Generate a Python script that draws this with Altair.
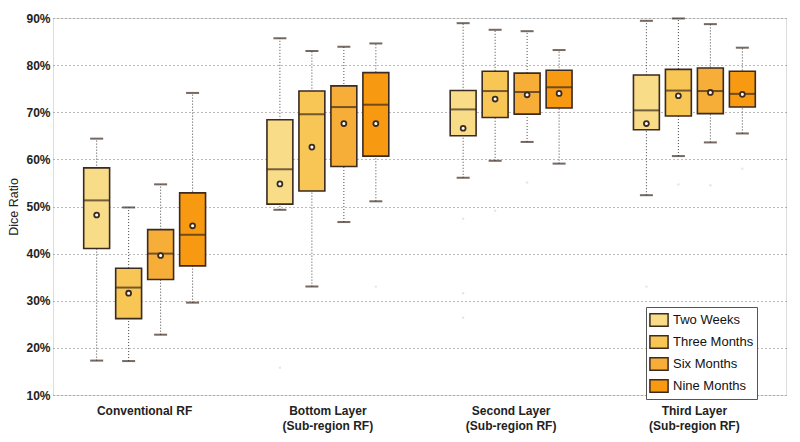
import altair as alt
import pandas as pd

groups = ["Conventional RF", "Bottom Layer|(Sub-region RF)", "Second Layer|(Sub-region RF)", "Third Layer|(Sub-region RF)"]
series = ["Two Weeks", "Three Months", "Six Months", "Nine Months"]
colors = ["#F9DC88", "#F8C655", "#F7AE38", "#F79A12"]

# per group, per series (Two Weeks, Three Months, Six Months, Nine Months), in percent
whisk_lo = [[17.3, 17.2, 22.8, 29.6], [49.3, 33.0, 46.7, 51.1], [56.1, 59.7, 63.7, 59.1], [52.4, 60.7, 63.6, 65.5]]
q1 = [[41.1, 26.2, 34.5, 37.4], [50.5, 53.3, 58.5, 60.7], [65.0, 68.9, 69.6, 70.9], [66.3, 69.2, 69.7, 71.1]]
median = [[51.3, 32.8, 40.0, 44.0], [57.9, 69.6, 71.1, 71.6], [70.6, 74.5, 74.3, 75.3], [70.4, 74.6, 74.5, 73.9]]
mean = [[48.2, 31.6, 39.6, 45.9], [54.8, 62.6, 67.6, 67.6], [66.6, 72.8, 73.7, 74.0], [67.6, 73.5, 74.2, 73.8]]
q3 = [[58.2, 36.9, 45.1, 52.9], [68.4, 74.5, 75.6, 78.4], [74.6, 78.7, 78.3, 78.9], [77.9, 79.1, 79.4, 78.7]]
whisk_hi = [[64.4, 49.8, 54.7, 74.1], [85.7, 83.0, 83.9, 84.6], [88.9, 87.5, 87.2, 83.2], [89.4, 89.9, 88.7, 83.7]]

out_group = [1, 1, 2, 2, 2, 2, 2, 3, 3, 3, 3]
out_series = [0, 3, 0, 0, 0, 1, 2, 0, 1, 2, 3]
out_value = [15.8, 33.0, 47.4, 31.6, 26.4, 49.1, 55.1, 33.0, 54.7, 54.5, 58.0]

rows = []
for gi, g in enumerate(groups):
    for si, s in enumerate(series):
        rows.append(dict(group=g, series=s,
                         lo=whisk_lo[gi][si] / 100, q1=q1[gi][si] / 100, med=median[gi][si] / 100,
                         mean=mean[gi][si] / 100, q3=q3[gi][si] / 100, hi=whisk_hi[gi][si] / 100))
df = pd.DataFrame(rows)
odf = pd.DataFrame(dict(group=[groups[i] for i in out_group],
                        series=[series[i] for i in out_series],
                        v=[v / 100 for v in out_value]))

FONT = "Liberation Sans"
DARK = "#3a2a20"

x = alt.X("group:N", sort=groups, scale=alt.Scale(paddingInner=0, paddingOuter=0),
          axis=alt.Axis(title=None, labelExpr="split(datum.label, '|')", labelFont=FONT,
                        labelFontSize=12, labelFontWeight="bold", labelColor="#222",
                        labelAngle=0, tickSize=0, labelPadding=10, domain=False, labelLineHeight=15))
xo = alt.XOffset("series:N", sort=series,
                 scale=alt.Scale(paddingInner=0.19, paddingOuter=0.96))
yscale = alt.Scale(domain=[0.1, 0.9], nice=False, zero=False)
yaxis = alt.Axis(title="Dice Ratio", format=".0%", values=[0.1, 0.2, 0.3, 0.4, 0.5, 0.6, 0.7, 0.8, 0.9],
                 grid=True, gridDash=[1, 3], gridColor="#777", gridWidth=1,
                 labelFont=FONT, labelFontSize=12, labelFontWeight="bold", labelColor="#222",
                 titleFont=FONT, titleFontSize=12.5, titleFontWeight="normal", titleColor="#222",
                 titlePadding=5, tickSize=0, domain=False, labelPadding=3)

base = alt.Chart(df)

whisk = base.mark_rule(strokeDash=[1, 2], color="#444", strokeWidth=1).encode(
    x=x, xOffset=xo, y=alt.Y("lo:Q", scale=yscale, axis=yaxis), y2="hi:Q")
cap_lo = base.mark_tick(orient="horizontal", size=13, thickness=2, color=DARK).encode(
    x=x, xOffset=xo, y=alt.Y("lo:Q", scale=yscale))
cap_hi = base.mark_tick(orient="horizontal", size=13, thickness=2, color=DARK).encode(
    x=x, xOffset=xo, y=alt.Y("hi:Q", scale=yscale))
box = base.mark_bar(stroke=DARK, strokeWidth=1.6).encode(
    x=x, xOffset=xo, y=alt.Y("q1:Q", scale=yscale), y2="q3:Q",
    color=alt.Color("series:N", sort=series, scale=alt.Scale(domain=series, range=colors),
                    legend=alt.Legend(title=None, orient="none", legendX=593, legendY=289,
                                      symbolType="M-1,-0.7H1V0.7H-1Z", symbolSize=330,
                                      symbolStrokeColor=DARK, symbolStrokeWidth=1.5,
                                      symbolOpacity=1,
                                      labelFont=FONT, labelFontSize=13, labelColor="#111",
                                      labelFontWeight="normal", rowPadding=2,
                                      fillColor="white", strokeColor="#555", padding=3,
                                      labelOffset=4)))
med = base.mark_tick(orient="horizontal", size=26, thickness=2, color=DARK).encode(
    x=x, xOffset=xo, y=alt.Y("med:Q", scale=yscale))
mn = base.mark_point(shape="circle", size=24, filled=False, stroke=DARK, strokeWidth=1.8, fill="white",
                     fillOpacity=1, opacity=1).encode(
    x=x, xOffset=xo, y=alt.Y("mean:Q", scale=yscale))
outl = alt.Chart(odf).mark_point(shape="circle", size=6, filled=True, color="#dcdcdc").encode(
    x=x, xOffset=alt.XOffset("series:N", sort=series, scale=alt.Scale(paddingInner=0.19, paddingOuter=0.96)),
    y=alt.Y("v:Q", scale=yscale))

chart = alt.layer(whisk, cap_lo, cap_hi, box, med, mn, outl).properties(
    width=733, height=377,
    padding={"left": 45, "top": 10, "right": 6, "bottom": 39},
    autosize=alt.AutoSizeParams(type="none"),
).configure_view(stroke="#666", strokeWidth=1.2).configure(background="white")

chart.save("out.html", embed_options={"renderer": "svg", "actions": False})
